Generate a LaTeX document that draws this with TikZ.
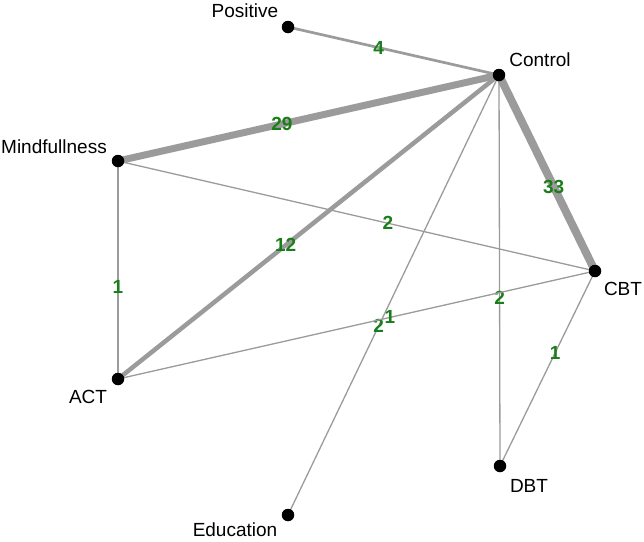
\documentclass[tikz,border=0pt]{standalone}
\usepackage{fontspec}
\setmainfont{Liberation Sans}
\usetikzlibrary{backgrounds}
\definecolor{edgegray}{RGB}{155,155,155}
\definecolor{lblgreen}{RGB}{25,125,25}
\begin{document}
\begin{tikzpicture}[x=1pt,y=-1pt,
  dot/.style={circle,fill=black,inner sep=0pt,minimum size=12.5pt},
  tname/.style={anchor=base,inner sep=0pt,font=\fontsize{19}{22}\selectfont},
  elabel/.style={inner sep=0pt,text=lblgreen,font=\fontsize{19}{21}\selectfont\bfseries},
  conn/.style={draw=edgegray,line width=#1},
  conn/.default=1.3pt]
\useasboundingbox (0,0) rectangle (644,541);
\node[dot] (pos) at (288,27) {};
\node[dot] (con) at (499,75) {};
\node[dot] (min) at (118,161) {};
\node[dot] (cbt) at (595,271) {};
\node[dot] (dbt) at (500,466) {};
\node[dot] (act) at (118,379) {};
\node[dot] (edu) at (288,515) {};
\node[tname] (tpos) at (245,17) {Positive};
\node[tname] (tcon) at (540,66) {Control};
\node[tname] (tmin) at (54,153) {Mindfullness};
\node[tname] (tcbt) at (623,295) {CBT};
\node[tname] (tact) at (88,403) {ACT};
\node[tname] (tdbt) at (529,492) {DBT};
\node[tname] (tedu) at (235,536) {Education};
\begin{scope}[on background layer]
\draw[conn=2.7pt] (con.center) -- (pos.center) node[elabel,pos=0.57] {4};
\draw[conn=7pt] (con.center) -- (min.center) node[elabel,pos=0.57] {29};
\draw[conn=8pt] (con.center) -- (cbt.center) node[elabel,pos=0.57] {33};
\draw[conn=4.5pt] (con.center) -- (act.center) node[elabel,pos=0.56] {12};
\draw[conn] (con.center) -- (dbt.center) node[elabel,pos=0.57] {2};
\draw[conn] (con.center) -- (edu.center) node[elabel,pos=0.57] {2};
\draw[conn] (min.center) -- (cbt.center) node[elabel,pos=0.566] {2};
\draw[conn] (min.center) -- (act.center) node[elabel,pos=0.58] {1};
\draw[conn] (dbt.center) -- (cbt.center) node[elabel,pos=0.58] {1};
\draw[conn] (act.center) -- (cbt.center) node[elabel,pos=0.57] {1};
\end{scope}
\end{tikzpicture}
\end{document}
